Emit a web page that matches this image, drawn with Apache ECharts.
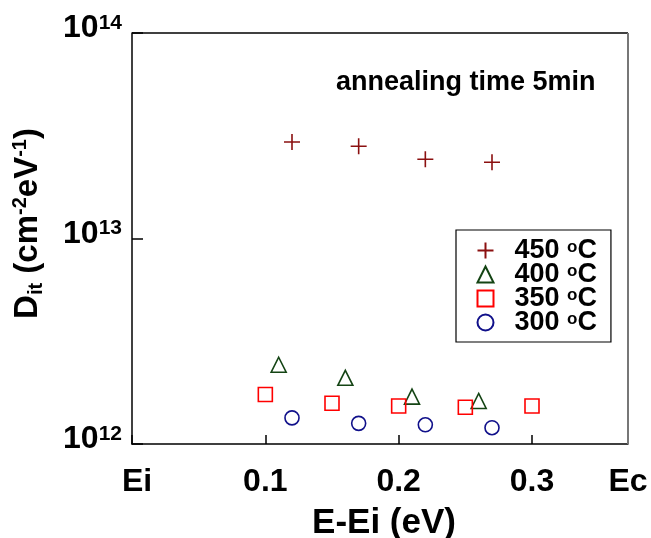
<!DOCTYPE html>
<html>
<head>
<meta charset="utf-8">
<script src="https://cdn.jsdelivr.net/npm/echarts@6/dist/echarts.min.js"></script>
<style>
  html, body { margin: 0; padding: 0; background: #fff; }
  #main { width: 651px; height: 538px; }
</style>
</head>
<body>
<div id="main"></div>
<script>
// data (x in eV, y in cm-2 eV-1)
var x450 = [0.12, 0.17, 0.22, 0.27];
var y450 = [2.95e13, 2.81e13, 2.43e13, 2.35e13];
var x400 = [0.11, 0.16, 0.21, 0.26];
var y400 = [2.43e12, 2.10e12, 1.70e12, 1.62e12];
var x350 = [0.10, 0.15, 0.20, 0.25, 0.30];
var y350 = [1.74e12, 1.58e12, 1.53e12, 1.51e12, 1.53e12];
var x300 = [0.12, 0.17, 0.22, 0.27];
var y300 = [1.34e12, 1.26e12, 1.24e12, 1.20e12];
var names = ['450', '400', '350', '300'];
var yTicks = [1e12, 1e13, 1e14];

function pairs(xs, ys) {
    var out = [];
    for (var i = 0; i < xs.length; i++) out.push([xs[i], ys[i]]);
    return out;
}

var font = '"Liberation Sans", Arial, sans-serif';

var dom = document.getElementById("main");
var myChart = echarts.init(dom);
var option = null;

option = {
    animation: false,
    backgroundColor: '#fff',
    textStyle: { fontFamily: font },
    grid: { left: 132, right: 23, top: 33, bottom: 94, containLabel: false, outerBoundsMode: 'none' },
    legend: {
        orient: 'vertical',
        left: 456,
        top: 230,
        width: 156,
        padding: [7, 14, 6, 19],
        borderColor: '#000',
        borderWidth: 1.2,
        itemGap: -3,
        itemWidth: 16,
        itemHeight: 16,
        formatter: function (n) { return '{a|' + n + ' }{s|o}{a|C}'; },
        textStyle: {
            fontFamily: font,
            padding: [0, 0, 0, 16],
            rich: {
                a: { fontSize: 27, fontWeight: 'bold', color: '#000', lineHeight: 24, fontFamily: font },
                s: { fontSize: 17, fontWeight: 'bold', color: '#000', lineHeight: 24, verticalAlign: 'top', fontFamily: font }
            }
        },
        data: names
    },
    xAxis: {
        type: 'value',
        min: 0,
        max: 0.372,
        interval: 0.1,
        name: 'E-Ei (eV)',
        nameLocation: 'middle',
        nameGap: 62,
        nameTextStyle: { fontSize: 35, fontWeight: 'bold', color: '#000', fontFamily: font, padding: [0, 0, 0, 8] },
        axisLine: { lineStyle: { color: '#000', width: 1.5 } },
        axisTick: { inside: true, length: 9, lineStyle: { color: '#000', width: 1.5 } },
        splitLine: { show: false },
        axisLabel: {
            margin: 22,
            showMinLabel: true,
            showMaxLabel: true,
            fontSize: 32,
            fontWeight: 'bold',
            color: '#000',
            fontFamily: font,
            formatter: function (v) {
                if (v === 0) return '{e|Ei}';
                if (v > 0.35) return 'Ec';
                return v.toFixed(1);
            },
            rich: {
                e: { fontSize: 32, fontWeight: 'bold', color: '#000', fontFamily: font, padding: [0, 0, 0, 10] }
            }
        }
    },
    yAxis: {
        type: 'log',
        logBase: 10,
        min: yTicks[0],
        max: yTicks[2],
        name: '{m|D}{b|it}{m| (cm}{t|-2}{m|eV}{t|-1}{m|)}',
        nameLocation: 'middle',
        nameGap: 86,
        nameTextStyle: {
            padding: [0, 0, 0, 30],
            rich: {
                m: { fontSize: 33, fontWeight: 'bold', color: '#000', fontFamily: font, lineHeight: 36 },
                b: { fontSize: 20, fontWeight: 'bold', color: '#000', fontFamily: font, lineHeight: 36, verticalAlign: 'bottom' },
                t: { fontSize: 20, fontWeight: 'bold', color: '#000', fontFamily: font, lineHeight: 36, verticalAlign: 'top' }
            }
        },
        axisLine: { lineStyle: { color: '#000', width: 1.5 } },
        axisTick: { inside: true, length: 11, lineStyle: { color: '#000', width: 1.5 } },
        minorTick: { show: false },
        splitLine: { show: false },
        axisLabel: {
            margin: 10,
            padding: [0, 0, 9, 0],
            formatter: function (v) {
                var p = Math.round(Math.log(v) / Math.LN10);
                return '{n|10}{p|' + p + '}';
            },
            rich: {
                n: { fontSize: 32, fontWeight: 'bold', color: '#000', fontFamily: font, lineHeight: 32 },
                p: { fontSize: 21, fontWeight: 'bold', color: '#000', fontFamily: font, lineHeight: 32, verticalAlign: 'top' }
            }
        }
    },
    graphic: [
        // frame top and right
        { type: 'line', shape: { x1: 132, y1: 33, x2: 628, y2: 33 }, style: { stroke: '#000', lineWidth: 1.5 }, z: 10 },
        { type: 'line', shape: { x1: 628, y1: 33, x2: 628, y2: 444 }, style: { stroke: '#777', lineWidth: 2 }, z: 10 },
        {
            type: 'text',
            left: 336,
            top: 69,
            style: { text: 'annealing time 5min', font: 'bold 27px ' + font, fill: '#000' }
        }
    ],
    series: [
        {
            name: names[0], type: 'scatter',
            symbol: 'path://M0,8H16M8,0V16', symbolSize: 16,
            itemStyle: { color: 'none', borderColor: '#8b1010', borderWidth: 1.6, opacity: 1 },
            data: pairs(x450, y450)
        },
        {
            name: names[1], type: 'scatter',
            symbol: 'triangle', symbolSize: 15,
            itemStyle: { color: 'none', borderColor: '#144414', borderWidth: 1.6, opacity: 1 },
            data: pairs(x400, y400)
        },
        {
            name: names[2], type: 'scatter',
            symbol: 'rect', symbolSize: 14,
            itemStyle: { color: 'none', borderColor: '#ff0000', borderWidth: 1.6, opacity: 1 },
            data: pairs(x350, y350)
        },
        {
            name: names[3], type: 'scatter',
            symbol: 'circle', symbolSize: 14,
            itemStyle: { color: 'none', borderColor: '#10108a', borderWidth: 1.6, opacity: 1 },
            data: pairs(x300, y300)
        }
    ]
};
if (option && typeof option === "object") {
    myChart.setOption(option, true);
}
</script>
</body>
</html>
